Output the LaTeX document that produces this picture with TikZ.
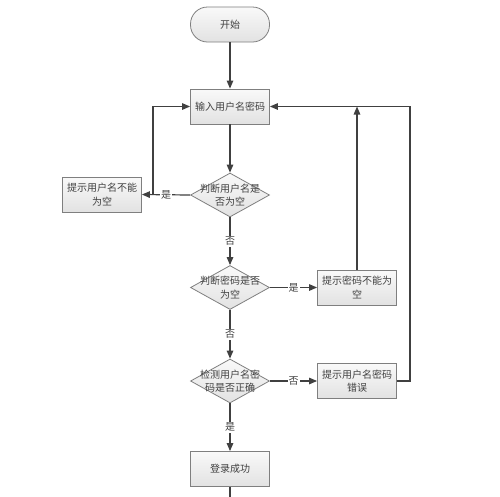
\documentclass[tikz,border=0pt]{standalone}
\usepackage{fontspec}
\newfontfamily\cjk{Noto Sans CJK SC}
\usetikzlibrary{shapes.geometric,arrows.meta}
\definecolor{bordc}{HTML}{7F7F7F}
\definecolor{linec}{HTML}{404040}
\definecolor{txtc}{HTML}{404040}
\definecolor{topc}{HTML}{F9F9F9}
\definecolor{botc}{HTML}{E2E2E2}
\begin{document}
\begin{tikzpicture}[x=1pt,y=-1pt,
  base/.style={draw=bordc, line width=0.8pt, top color=topc, bottom color=botc, inner sep=0pt},
  box/.style={base, minimum width=79pt, minimum height=35pt, align=center, text=txtc, font=\cjk\fontsize{10}{13.5}\selectfont},
  term/.style={box, rounded corners=17pt},
  dia/.style={base, diamond, minimum width=79pt, minimum height=44pt},
  dtxt/.style={align=center, text=txtc, font=\cjk\fontsize{10}{13.5}\selectfont, inner sep=0pt},
  lab/.style={fill=white, text=txtc, inner sep=1pt, font=\cjk\fontsize{10}{11}\selectfont},
  arr/.style={draw=linec, line width=1.2pt, -{Triangle[length=8pt,width=6.5pt]}},
  ln/.style={draw=linec, line width=1.2pt}]
\useasboundingbox[fill=white] (0,0) rectangle (500,496);

\node[term] (start) at (230,24.5) {开始};
\node[box] (input) at (230,106.5) {输入用户名密码};
\node[dia] (d1) at (230,195) {};
\node[dtxt] (t1) at (d1) {判断用户名是\\否为空};
\node[box] (b1) at (102,194.5) {提示用户名不能\\为空};
\node[dia] (d2) at (230,287.5) {};
\node[dtxt] (t2) at (d2) {判断密码是否\\为空};
\node[box] (b2) at (357,287.5) {提示密码不能为\\空};
\node[dia] (d3) at (230,381) {};
\node[dtxt] (t3) at (d3) {检测用户名密\\码是否正确};
\node[box] (b3) at (357,381) {提示用户名密码\\错误};
\node[box] (ok) at (230,469) {登录成功};
\coordinate (j1) at (153,195);
\coordinate (j2) at (410,381);
\coordinate (endp) at (230,497);

\draw[arr] (start) -- (input);
\draw[arr] (input) -- (d1);
\draw[arr] (d1.west) -- node[lab]{是} (b1.east);
\draw[arr] (j1) |- (input.west);
\draw[arr] (d1) -- node[lab]{否} (d2);
\draw[arr] (d2.east) -- node[lab]{是} (b2.west);
\draw[arr] (b2.north) -- (b2.north |- input.east);
\draw[arr] (d2) -- node[lab]{否} (d3);
\draw[arr] (d3.east) -- node[lab]{否} (b3.west);
\draw[arr] (b3.east) -- (j2) |- (input.east);
\draw[arr] (d3) -- node[lab]{是} (ok);
\draw[ln] (ok.south) -- (endp);
\end{tikzpicture}
\end{document}
